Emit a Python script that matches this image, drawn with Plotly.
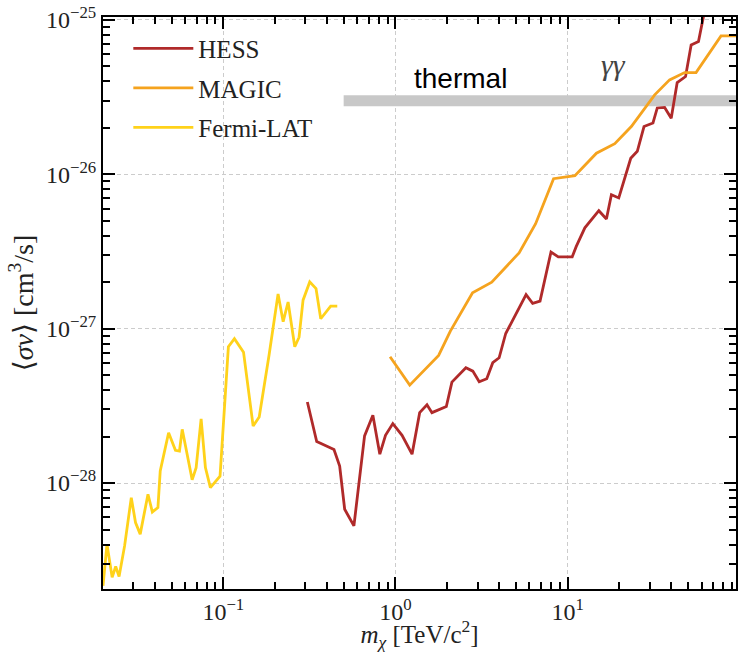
import math
import plotly.graph_objects as go

# ---------------- data ----------------
fermi_x = [0.0200, 0.0211, 0.0226, 0.0237, 0.0248, 0.0267, 0.0292, 0.0309, 0.0329, 0.0365,
           0.0387, 0.0417, 0.0430, 0.0481, 0.0527, 0.0556, 0.0577, 0.0621, 0.0659, 0.0695,
           0.0743, 0.0787, 0.0841, 0.0957, 0.107, 0.116, 0.131, 0.149, 0.1616, 0.1846,
           0.208, 0.2226, 0.2378, 0.260, 0.2754, 0.2905, 0.3177, 0.3455, 0.368, 0.4204, 0.459]
fermi_y = [2.16e-29, 4.02e-29, 2.45e-29, 2.88e-29, 2.48e-29, 3.92e-29, 8.05e-29, 5.55e-29, 4.67e-29, 8.47e-29,
           6.50e-29, 6.95e-29, 1.20e-28, 2.12e-28, 1.63e-28, 1.61e-28, 2.23e-28, 1.46e-28, 1.05e-28, 1.26e-28,
           2.61e-28, 1.26e-28, 9.35e-29, 1.11e-28, 7.64e-28, 8.61e-28, 7.05e-28, 2.34e-28, 2.68e-28, 6.81e-28,
           1.68e-27, 1.11e-27, 1.49e-27, 7.64e-28, 8.81e-28, 1.53e-27, 2.01e-27, 1.82e-27, 1.16e-27, 1.40e-27, 1.40e-27]

hess_x = [0.3077, 0.3487, 0.4393, 0.474, 0.5068, 0.5735, 0.6614, 0.739, 0.811, 0.875,
          0.965, 1.092, 1.248, 1.382, 1.524, 1.629, 1.974, 2.127, 2.564, 2.814,
          3.064, 3.39, 3.674, 4.0, 4.369, 5.735, 6.262, 6.914, 8.004, 8.822,
          10.63, 11.21, 12.59, 15.18, 16.80, 17.96, 19.82, 23.26, 25.39, 27.77,
          31.31, 33.16, 36.60, 39.97, 43.29, 48.42, 52.18, 57.55, 63.0]
hess_y = [3.35e-28, 1.86e-28, 1.65e-28, 1.29e-28, 6.77e-29, 5.28e-29, 2.02e-28, 2.75e-28, 1.54e-28, 2.04e-28,
          2.43e-28, 2.04e-28, 1.54e-28, 2.86e-28, 3.22e-28, 2.86e-28, 3.13e-28, 4.51e-28, 5.59e-28, 5.31e-28,
          4.53e-28, 4.74e-28, 6.02e-28, 6.48e-28, 9.31e-28, 1.66e-27, 1.46e-27, 1.51e-27, 3.14e-27, 2.92e-27,
          2.92e-27, 3.40e-27, 4.50e-27, 5.81e-27, 5.14e-27, 7.38e-27, 7.03e-27, 1.27e-26, 1.41e-26, 2.04e-26,
          2.15e-26, 2.69e-26, 2.71e-26, 2.31e-26, 3.93e-26, 4.30e-26, 6.89e-26, 7.24e-26, 1.2e-25]

magic_x = [0.930, 1.210, 1.781, 2.083, 2.803, 3.625, 5.224, 6.518, 8.285, 11.02,
           14.70, 18.79, 23.44, 32.04, 39.1, 47.8, 55.7, 77.8, 100.0]
magic_y = [6.58e-28, 4.31e-28, 6.71e-28, 9.64e-28, 1.71e-27, 2.0e-27, 3.10e-27, 4.79e-27, 9.37e-27, 9.79e-27,
           1.37e-26, 1.58e-26, 2.04e-26, 3.27e-26, 4.09e-26, 4.56e-26, 4.56e-26, 7.88e-26, 7.88e-26]

thermal_x = [0.5, 100.0]
thermal_y = [3.0e-26, 3.0e-26]

x_tick_vals = [0.1, 1, 10]
x_tick_text = ["10<sup>−1</sup>", "10<sup>0</sup>", "10<sup>1</sup>"]
y_tick_vals = [1e-28, 1e-27, 1e-26, 1e-25]
y_tick_text = ["10<sup>−28</sup>", "10<sup>−27</sup>", "10<sup>−26</sup>", "10<sup>−25</sup>"]

x_minor_decades = [-2, -1, 0, 1]
y_minor_decades = [-29, -28, -27, -26, -25]
x_minor = [m * 10.0 ** d for d in x_minor_decades for m in range(2, 10)]
y_minor = [m * 10.0 ** d for d in y_minor_decades for m in range(2, 10)]

X_RANGE = [math.log10(0.02), 1.978]
Y_RANGE = [-28.686, -24.981]

# ---------------- figure ----------------
SERIF = "Liberation Serif, DejaVu Serif, serif"
fig = go.Figure()

fig.add_trace(go.Scatter(x=thermal_x, y=thermal_y, mode="lines", showlegend=False,
                         line=dict(color="#c8c8c8", width=11), hoverinfo="skip"))
fig.add_trace(go.Scatter(x=hess_x, y=hess_y, mode="lines", name="HESS", legendgroup="a",
                         line=dict(color="#b02a2a", width=2.8)))
fig.add_trace(go.Scatter(x=magic_x, y=magic_y, mode="lines", name="MAGIC", legendgroup="b",
                         line=dict(color="#f5a31e", width=2.8)))
fig.add_trace(go.Scatter(x=fermi_x, y=fermi_y, mode="lines", name="Fermi-LAT", legendgroup="c",
                         line=dict(color="#ffd21a", width=2.8)))
# invisible trace so the minor-tick overlay axes are drawn
fig.add_trace(go.Scatter(x=[0.05], y=[1e-27], xaxis="x2", yaxis="y2", mode="markers",
                         marker=dict(size=1, opacity=0), showlegend=False, hoverinfo="skip"))

fig.add_annotation(x=math.log10(2.39), y=math.log10(4.2e-26), text="thermal", showarrow=False,
                   font=dict(family="Liberation Sans, Arial, sans-serif", size=28, color="black"))
fig.add_annotation(x=math.log10(18.4), y=-25.29, text="<i>γγ</i>", showarrow=False,
                   font=dict(family=SERIF, size=30, color="#444444"))

axis_common = dict(
    type="log", showline=True, linecolor="#000000", linewidth=2, mirror="allticks",
    ticks="inside", ticklen=12, tickwidth=2, tickcolor="#000000",
    showgrid=True, gridcolor="#cccccc", griddash="4px,3px", gridwidth=1,
    zeroline=False, tickmode="array",
    tickfont=dict(family=SERIF, size=24, color="#222222"),
)
minor_common = dict(
    type="log", showline=False, mirror="ticks", ticks="inside", ticklen=7, tickwidth=1.5,
    tickcolor="#000000", showgrid=False, zeroline=False, showticklabels=False, tickmode="array",
)

fig.update_layout(
    xaxis=dict(**axis_common, range=X_RANGE, tickvals=x_tick_vals, ticktext=x_tick_text,
               title=dict(text="<i>m</i><sub><i>χ</i></sub> [TeV/c<sup>2</sup>]",
                          font=dict(family=SERIF, size=25, color="#222222"), standoff=10)),
    yaxis=dict(**axis_common, range=Y_RANGE, tickvals=y_tick_vals, ticktext=y_tick_text,
               title=dict(text="⟨<i>σv</i>⟩ [cm<sup>3</sup>/s]",
                          font=dict(family=SERIF, size=28, color="#222222"), standoff=4)),
    xaxis2=dict(**minor_common, overlaying="x", side="bottom", anchor="y2", range=X_RANGE,
                tickvals=x_minor),
    yaxis2=dict(**minor_common, overlaying="y", side="left", anchor="x2", range=Y_RANGE,
                tickvals=y_minor),
    width=738, height=652,
    margin=dict(l=103, r=0, t=17, b=62),
    plot_bgcolor="white", paper_bgcolor="white",
    legend=dict(x=0.04, y=0.985, xanchor="left", yanchor="top",
                bgcolor="rgba(0,0,0,0)", borderwidth=0,
                font=dict(family=SERIF, size=25, color="#222222"),
                tracegroupgap=4, itemwidth=60),
)

fig.write_html("out.html")
